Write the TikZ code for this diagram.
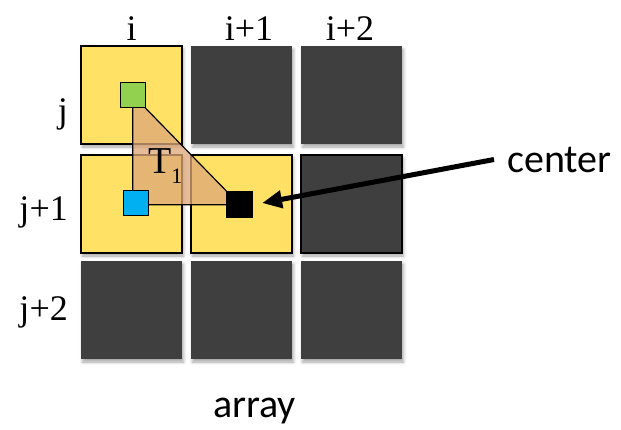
\documentclass[tikz,border=0pt]{standalone}
\usepackage{fontspec}
\setmainfont{Liberation Serif}
\newfontfamily\labelsans{Carlito}
\usetikzlibrary{arrows.meta,shadows.blur}
\definecolor{cellyellow}{RGB}{255,225,102}
\definecolor{celldark}{RGB}{63,63,63}
\definecolor{trifill}{RGB}{222,168,120}
\definecolor{ptgreen}{RGB}{146,208,80}
\definecolor{ptblue}{RGB}{0,176,240}
\begin{document}
\begin{tikzpicture}[x=1pt,y=-1pt,
  cell/.style={rectangle,inner sep=0pt,minimum width=101pt,minimum height=98pt,
    blur shadow={shadow xshift=1.5pt,shadow yshift=-3pt,shadow blur radius=3pt,shadow opacity=35}},
  hot/.style={cell,fill=cellyellow,draw=black,line width=1.5pt},
  cold/.style={cell,fill=celldark},
  coldedge/.style={cold,draw=black,line width=1.5pt},
  pt/.style={rectangle,draw=black,line width=1pt,inner sep=0pt,minimum size=25pt},
  idx/.style={font=\fontsize{36}{36}\selectfont,inner sep=0pt},
  word/.style={font=\labelsans\fontsize{40}{40}\selectfont,inner sep=0pt}
]
\useasboundingbox (0,0) rectangle (621,429);

% the 3x3 array of cells
\node[hot]      (c11) at (131.5,95)  {};
\node[cold]     (c21) at (241.5,95)  {};
\node[cold]     (c31) at (351.5,95)  {};
\node[hot]      (c12) at (131.5,204) {};
\node[hot]      (c22) at (241.5,204) {};
\node[coldedge] (c32) at (351.5,204) {};
\node[cold]     (c13) at (131.5,310) {};
\node[cold]     (c23) at (241.5,310) {};
\node[cold]     (c33) at (351.5,310) {};

% triangle T1 spanned by the sample points
\coordinate (g) at (132.7,95);
\coordinate (k) at (239.7,204.7);
\filldraw[fill=trifill,fill opacity=0.76,draw=black,line width=1.2pt]
  (g) -- (g |- k) -- (k) -- cycle;

% sample points
\node[pt,fill=ptgreen] (green) at (g) {};
\node[pt,fill=ptblue]  (blue)  at (135.7,203) {};
\node[pt,fill=black,minimum size=26pt] (ctr) at (k) {};

\node[font=\fontsize{38}{38}\selectfont,inner sep=0pt,anchor=base west] (t1)
  at (148,173) {T\raisebox{-10pt}{\fontsize{22}{22}\selectfont 1}};

% column and row indices
\node[idx,anchor=base] (ci)  at (131.5,40) {i};
\node[idx,anchor=base] (ci1) at (249,40)   {i+1};
\node[idx,anchor=base] (ci2) at (350,40)   {i+2};
\node[idx,anchor=base east] (rj)  at (68,122) {j};
\node[idx,anchor=base east] (rj1) at (68,220) {j+1};
\node[idx,anchor=base east] (rj2) at (68,320) {j+2};

% labels
\node[word,inner xsep=13pt,anchor=base west] (cw) at (494,172) {center};
\draw[-{Triangle[length=20pt,width=17pt]},line width=5pt,shorten >=9pt]
  (cw.west) -- (ctr.east);
\node[word,anchor=base] (arr) at (254.5,417) {array};
\end{tikzpicture}
\end{document}
